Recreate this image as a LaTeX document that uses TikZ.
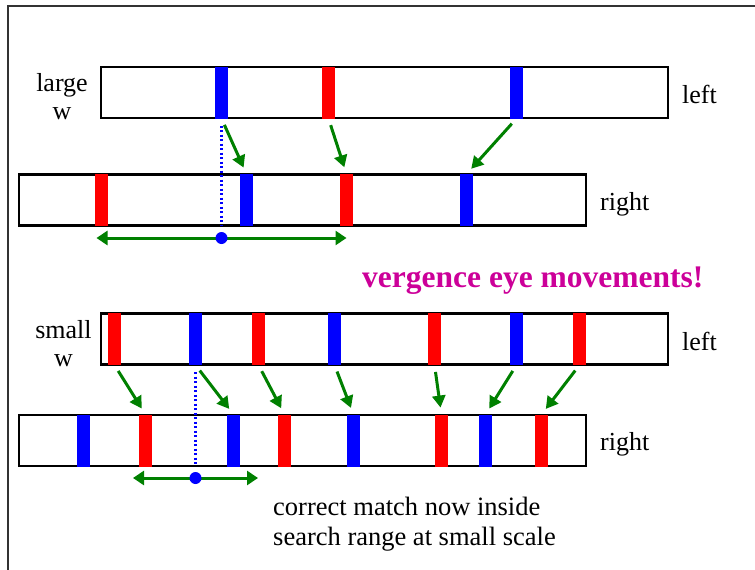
\documentclass[tikz,border=0pt]{standalone}
\usepackage{fontspec}
\setmainfont{Liberation Serif}
\usetikzlibrary{arrows.meta}
\definecolor{matchgreen}{RGB}{0,128,0}
\definecolor{vergmagenta}{RGB}{204,0,153}

\begin{document}
\begin{tikzpicture}[x=1pt,y=-1pt,
    strip/.style={draw=black,line width=2.5pt,minimum width=567pt,minimum height=51pt,inner sep=0pt,outer sep=0pt},
    bar/.style={minimum width=13pt,minimum height=52pt,inner sep=0pt,outer sep=0pt},
    match/.style={draw=matchgreen,line width=3pt,-{Triangle[length=12pt,width=13pt]},shorten <=7pt,shorten >=7pt},
    searchrange/.style={draw=matchgreen,line width=3pt,{Triangle[length=11pt,width=14pt]}-{Triangle[length=11pt,width=14pt]}},
    zeroline/.style={draw=blue,line width=2.5pt,dash pattern=on 2pt off 2.5pt,shorten <=7pt},
    zerodot/.style={circle,fill=blue,minimum size=12pt,inner sep=0pt},
    lbl/.style={font=\fontsize{26}{28}\selectfont,inner sep=0pt}]
    \useasboundingbox (0,0) rectangle (755,570);

    % Frame
    \draw [black!80,line width=2pt] (8,570) -- (8,6) -- (755,6);

    % Large w strips
    \node [strip] (leftlarge) at (384.5,92.5) {};
    \node [strip] (rightlarge) at (302.5,200) {};
    \foreach \x/\c [count=\i] in {221.5/blue,328.5/red,516.5/blue}
        \node [bar,fill=\c] (lw\i) at (\x,92.5) {};
    \foreach \x/\c [count=\i] in {101.5/red,246.5/blue,346.5/red,466.5/blue}
        \node [bar,fill=\c] (rw\i) at (\x,200) {};

    % Small w strips
    \node [strip] (leftsmall) at (384.5,339) {};
    \node [strip] (rightsmall) at (302.5,440.5) {};
    \foreach \x/\c [count=\i] in {114.5/red,195.5/blue,258.5/red,334.5/blue,434.5/red,516.5/blue,579.5/red}
        \node [bar,fill=\c] (ls\i) at (\x,339) {};
    \foreach \x/\c [count=\i] in {83/blue,145.5/red,233.5/blue,284.5/red,353.5/blue,441.5/red,485.5/blue,541.5/red}
        \node [bar,fill=\c] (rs\i) at (\x,440.5) {};

    % Matches
    \foreach \a/\b in {lw1/rw2,lw2/rw3,lw3/rw4,ls1/rs2,ls2/rs3,ls3/rs4,ls4/rs5,ls5/rs6,ls6/rs7,ls7/rs8}
        \draw [match] (\a.south) -- (\b.north);

    % Search ranges
    \draw [zeroline] (lw1.south) -- (lw1.south |- rightlarge.south);
    \coordinate (clarge) at (221.5,238);
    \draw [searchrange] ([xshift=-125pt]clarge) -- ([xshift=125pt]clarge);
    \node [zerodot] (dotlarge) at (clarge) {};

    \draw [zeroline] (ls2.south) -- (ls2.south |- rightsmall.south);
    \coordinate (csmall) at (195.5,478);
    \draw [searchrange] ([xshift=-62.5pt]csmall) -- ([xshift=62.5pt]csmall);
    \node [zerodot] (dotsmall) at (csmall) {};

    % Labels
    \node [lbl,align=center] (largew) at (62,97) {large\\w};
    \node [lbl,align=center] (smallw) at (63.5,343.5) {small\\w};
    \node [lbl,anchor=base west] (leftlbl1) at (682,103) {left};
    \node [lbl,anchor=base west] (rightlbl1) at (600,210) {right};
    \node [lbl,anchor=base west] (leftlbl2) at (682,350) {left};
    \node [lbl,anchor=base west] (rightlbl2) at (600,450) {right};
    \node [inner sep=0pt,anchor=base west,text=vergmagenta,font=\fontsize{31.5}{34}\selectfont\bfseries]
        (vergence) at (362,287) {vergence eye movements!};
    \node [inner sep=0pt,anchor=west,align=left,font=\fontsize{26.5}{30}\selectfont]
        (note) at (273,524) {correct match now inside\\search range at small scale};
\end{tikzpicture}
\end{document}
